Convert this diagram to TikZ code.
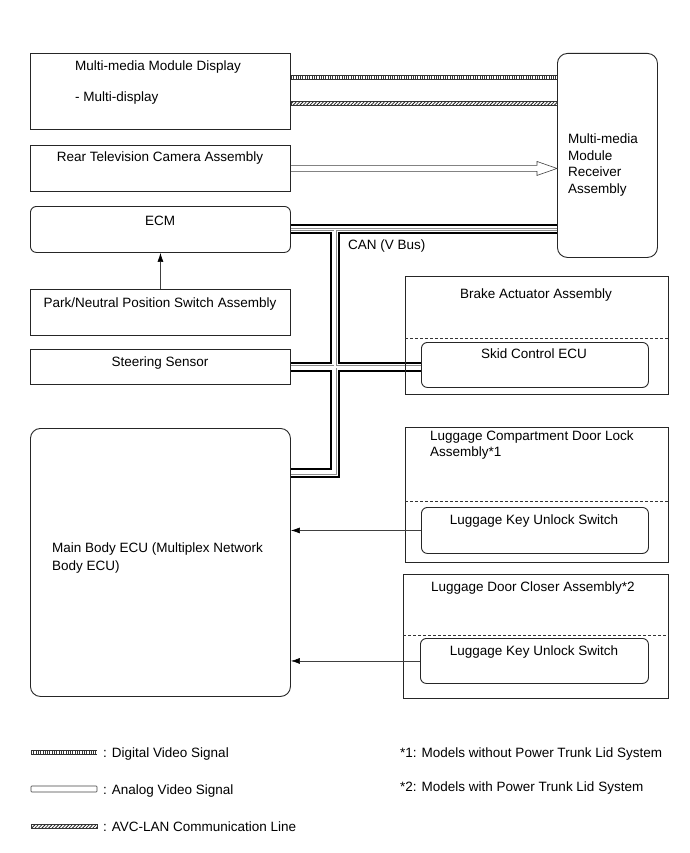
\documentclass[tikz,border=0pt]{standalone}
\usepackage{fontspec}
\setmainfont{Liberation Sans}
\usetikzlibrary{arrows.meta,calc,backgrounds,patterns.meta}
\begin{document}
\begin{tikzpicture}[x=1pt,y=-1pt,
  every node/.style={font=\fontsize{13.5}{16.8}\selectfont},
  box/.style={draw=black!85,line width=0.9pt,anchor=north west,inner sep=0pt},
  rbox/.style={box,rounded corners=6pt},
  txt/.style={inner sep=0pt,anchor=base},
  ltxt/.style={inner sep=0pt,anchor=base west},
  sig/.style={draw=black!75,line width=0.6pt},
  sigarrow/.style={sig,-{Latex[length=9pt,width=6pt,black]}},
  sep/.style={draw=black!80,line width=0.8pt,dash pattern=on 3pt off 2pt}
]
\useasboundingbox (0,0) rectangle (689,853);

% boxes
\node[box,minimum width=260,minimum height=76] (mmd) at (30,53) {};
\node[box,minimum width=260,minimum height=46] (rtv) at (30,145) {};
\node[rbox,minimum width=260,minimum height=46] (ecm) at (30,206) {};
\node[box,minimum width=260,minimum height=46] (park) at (30,289) {};
\node[box,minimum width=260,minimum height=35] (steer) at (30,349) {};
\node[box,rounded corners=10pt,minimum width=260,minimum height=268] (main) at (30,428) {};
\node[box,rounded corners=10pt,minimum width=100,minimum height=204] (recv) at (557,53) {};
\node[box,minimum width=263,minimum height=118] (brake) at (405,276) {};
\node[rbox,minimum width=227,minimum height=45] (skid) at (421,342) {};
\node[box,minimum width=263,minimum height=135] (lcdl) at (405,427) {};
\node[rbox,minimum width=227,minimum height=46] (key1) at (421,507) {};
\node[box,minimum width=265,minimum height=124] (ldc) at (403,574) {};
\node[rbox,minimum width=228,minimum height=45] (key2) at (420,638) {};

% dashed separators
\draw[sep] (brake.west |- 0,338) -- (brake.east |- 0,338);
\draw[sep] (lcdl.west |- 0,501) -- (lcdl.east |- 0,501);
\draw[sep] (ldc.west |- 0,635) -- (ldc.east |- 0,635);

% texts
\node[ltxt] (t1) at (75,71) {Multi-media Module Display};
\node[ltxt] (t2) at (75,102) {- Multi-display};
\node[txt] (t3) at (160,162) {Rear Television Camera Assembly};
\node[txt] (t4) at (160,225) {ECM};
\node[txt] (t5) at (160,307) {Park/Neutral Position Switch Assembly};
\node[txt] (t6) at (160,366) {Steering Sensor};
\node[inner sep=0pt,anchor=west,align=left,font=\fontsize{13.5}{17.8}\selectfont] (t7) at (52,558) {Main Body ECU (Multiplex Network\\Body ECU)};
\node[inner sep=0pt,anchor=west,align=left] (t8) at (568,165) {Multi-media\\Module\\Receiver\\Assembly};
\node[txt] (t9) at (536,298) {Brake Actuator Assembly};
\node[txt] (t10) at (534,358) {Skid Control ECU};
\node[inner sep=0pt,anchor=west,align=left] (t11) at (430,445) {Luggage Compartment Door Lock\\Assembly*1};
\node[txt] (t12) at (534,524) {Luggage Key Unlock Switch};
\node[ltxt] (t13) at (431,591) {Luggage Door Closer Assembly*2};
\node[txt] (t14) at (534,655) {Luggage Key Unlock Switch};
\node[ltxt] (can) at (348,249) {CAN (V Bus)};

% CAN bus
\coordinate (jtop) at (335,229);
\coordinate (jbot) at (335,473);
\begin{scope}[on background layer]
\foreach \w/\c in {10/black,6/white,3/black!45,1.4/white}{
  \draw[line width=\w pt,\c,line join=miter]
    (ecm.east) -- (ecm.east -| recv.west)
    (jtop) -- (jbot) -- (jbot -| main.east)
    (steer.east) -- (steer.east -| skid.west);
}
\end{scope}

% digital video
\coordinate (dv1) at ($(mmd.east)+(0,-14)$);
\coordinate (dv2) at (dv1 -| recv.west);
\draw[line width=4pt,black!80,dash pattern=on 1pt off 1.3pt] (dv1) -- (dv2);
\draw[line width=0.5pt,black!80] ($(dv1)+(0,-2)$) -- ($(dv2)+(0,-2)$) ($(dv1)+(0,2)$) -- ($(dv2)+(0,2)$);

% AVC-LAN
\coordinate (av1) at ($(mmd.east)+(0,12)$);
\coordinate (av2) at (av1 -| recv.west);
\fill[pattern={Lines[angle=45,distance=2.4pt,line width=0.8pt]},pattern color=black!85] ($(av1)+(0,-2.2)$) rectangle ($(av2)+(0,2.2)$);
\draw[line width=0.5pt,black!80] ($(av1)+(0,-2.2)$) rectangle ($(av2)+(0,2.2)$);

% analog video
\coordinate (an2) at (rtv.east -| recv.west);
\draw[line width=0.6pt,black!75,line join=miter]
  ($(rtv.east)+(0,-3)$) -- ($(an2)+(-20,-3)$) -- ($(an2)+(-20,-7)$) -- (an2)
  -- ($(an2)+(-20,7)$) -- ($(an2)+(-20,3)$) -- ($(rtv.east)+(0,3)$);

% signal arrows
\draw[sigarrow] (park.north) -- (ecm.south);
\draw[sigarrow] (key1.west) -- (key1.west -| main.east);
\draw[sigarrow] (key2.west) -- (key2.west -| main.east);

% legend
\coordinate (l1a) at (31,752); \coordinate (l1b) at (97,752);
\draw[line width=4pt,black!80,dash pattern=on 1pt off 1.3pt] (l1a) -- (l1b);
\draw[line width=0.5pt,black!80] ($(l1a)+(0,-2)$) -- ($(l1b)+(0,-2)$) ($(l1a)+(0,2)$) -- ($(l1b)+(0,2)$);
\node[ltxt] (lg1) at (103,757) {: Digital Video Signal};

\draw[line width=0.6pt,black!75,rounded corners=0.8pt] (31,786) rectangle (97,792);
\node[ltxt] (lg2) at (103,794) {: Analog Video Signal};

\fill[pattern={Lines[angle=45,distance=2.4pt,line width=0.8pt]},pattern color=black!85] (31,824) rectangle (97,828.4);
\draw[line width=0.5pt,black!80] (31,824) rectangle (97,828.4);
\node[ltxt] (lg3) at (103,831) {: AVC-LAN Communication Line};

\node[ltxt] (fn1) at (400,757) {*1: Models without Power Trunk Lid System};
\node[ltxt] (fn2) at (400,791) {*2: Models with Power Trunk Lid System};
\end{tikzpicture}
\end{document}
